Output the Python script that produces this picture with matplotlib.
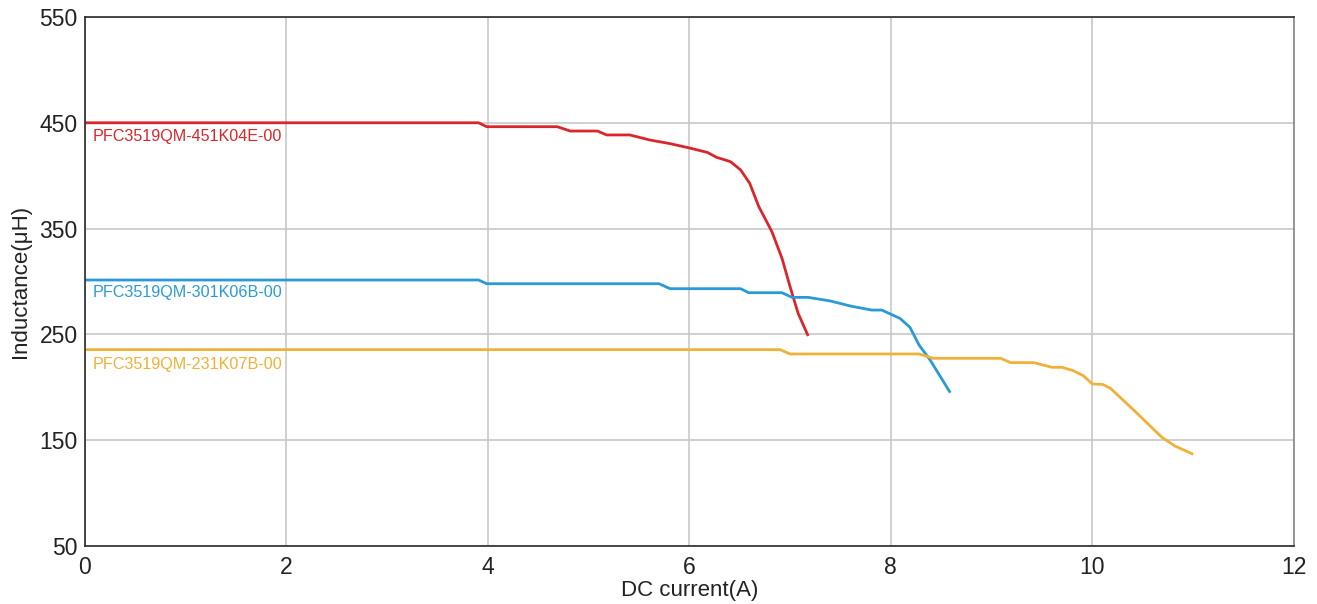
import matplotlib.pyplot as plt

plt.rcParams['font.family'] = ['Liberation Sans', 'DejaVu Sans']

# DC current (A) vs inductance (uH)
red_x = [0, 3.91, 3.99, 4.69, 4.82, 5.09, 5.18, 5.41, 5.61, 5.81, 6.01, 6.18,
         6.27, 6.41, 6.51, 6.60, 6.69, 6.82, 6.92, 7.00, 7.08, 7.18]
red_y = [450, 450, 446.3, 446.3, 442.2, 442.2, 438.5, 438.5, 433.7, 430.3, 426,
         422, 417.4, 413.2, 405.4, 392.8, 370.8, 347.1, 322, 295.2, 270, 248.5]

blue_x = [0, 3.91, 3.99, 5.70, 5.81, 6.51, 6.59, 6.92, 7.02, 7.18, 7.40, 7.60,
          7.81, 7.91, 8.09, 8.19, 8.28, 8.39, 8.59]
blue_y = [301.4, 301.4, 297.9, 297.9, 293.2, 293.2, 289.4, 289.4, 285, 285,
          281.6, 276.8, 273, 273, 265.2, 256.7, 240, 225.8, 194.9]

orange_x = [0, 6.90, 7.00, 8.28, 8.42, 9.09, 9.19, 9.42, 9.60, 9.70, 9.81,
            9.91, 10.0, 10.10, 10.18, 10.41, 10.69, 10.82, 11.0]
orange_y = [235.6, 235.6, 231.5, 231.5, 227.4, 227.4, 223.3, 223.3, 218.9,
            218.9, 215.7, 211, 203.1, 202.8, 199, 178.5, 152.7, 144.5, 136.7]

series = [
    ('PFC3519QM-451K04E-00', red_x, red_y, '#d9262b', 437),
    ('PFC3519QM-301K06B-00', blue_x, blue_y, '#2a9ad6', 290),
    ('PFC3519QM-231K07B-00', orange_x, orange_y, '#efb137', 222),
]

fig = plt.figure(figsize=(13.17, 6.04), dpi=100)
ax = fig.add_axes([0.0642, 0.0960, 0.9183, 0.8759])

for name, xs, ys, color, label_y in series:
    ax.plot(xs, ys, color=color, linewidth=2.0, solid_capstyle='butt')
    ax.text(0.08, label_y, name, color=color, fontsize=11.6, va='center', ha='left')

ax.set_xlim(0, 12)
ax.set_ylim(50, 550)
ax.set_xticks(range(0, 13, 2))
ax.set_yticks(range(50, 551, 100))
ax.grid(True, color='#c4c4c4', linewidth=1.1)
ax.set_axisbelow(True)
ax.tick_params(length=0, labelsize=16.5, colors='#222222')
ax.tick_params(axis='x', pad=7)
ax.tick_params(axis='y', pad=5)

for side in ['left', 'bottom', 'top']:
    ax.spines[side].set_color('#2a2a2a')
    ax.spines[side].set_linewidth(1.2)
ax.spines['right'].set_color('#888888')
ax.spines['right'].set_linewidth(1.2)

ax.set_xlabel('DC current(A)', fontsize=16, labelpad=1, color='#222222')
ax.set_ylabel('Inductance(μH)', fontsize=16, labelpad=6, color='#222222')

fig.savefig('out.png', dpi=100)
